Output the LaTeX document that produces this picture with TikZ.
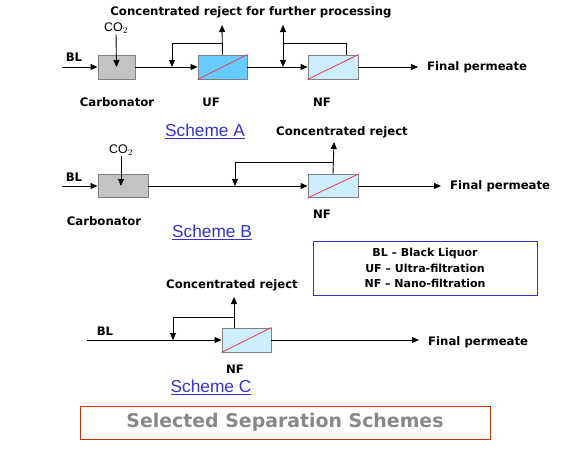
\documentclass[tikz,border=0pt]{standalone}
\usepackage{fontspec}
\setmainfont{DejaVu Sans}
\newfontfamily\arialfont{Liberation Sans}
\usepackage{tikz}
\usetikzlibrary{arrows.meta, calc}

\definecolor{carbgray}{HTML}{C4C2C4}
\definecolor{ufblue}{HTML}{66CCFF}
\definecolor{nfblue}{HTML}{CCEEFF}
\definecolor{boxedge}{HTML}{808080}
\definecolor{membred}{HTML}{FF3344}
\definecolor{linkblue}{HTML}{3333CC}
\definecolor{titlered}{HTML}{CC3300}
\definecolor{titlegray}{HTML}{888888}

\begin{document}
\begin{tikzpicture}[x=1pt, y=-1pt,
        flow/.style={line width=0.9pt, -{Triangle[length=7pt,width=6pt]}},
        pipe/.style={line width=0.9pt},
        unit/.style={draw=boxedge, line width=0.9pt, minimum height=24pt, inner sep=0pt},
        carb/.style={unit, fill=carbgray},
        uf/.style={unit, fill=ufblue, minimum width=49pt},
        nf/.style={unit, fill=nfblue, minimum width=50pt},
        lbl/.style={font=\bfseries\fontsize{11.7}{13}\selectfont, inner sep=1pt},
        gas/.style={font=\arialfont\fontsize{12.5}{13}\selectfont, inner sep=1pt},
        scheme/.style={font=\arialfont\fontsize{17.3}{19}\selectfont, text=linkblue, inner sep=1pt},
        perm/.style={lbl, inner xsep=9pt}]
    \useasboundingbox (0,0) rectangle (572,448);

    % Scheme A
    \begin{scope}
        \node[lbl] (headA) at (251,12) {Concentrated reject for further processing};
        \node[gas] (co2A) at (116,28) {CO$_2$};
        \node[lbl] (blA) at (74,57) {BL};
        \coordinate (inA) at (62,67);
        \node[carb, minimum width=37pt] (carbA) at (116.5,67) {};
        \node[uf] (ufA) at (222.5,67) {};
        \node[nf] (nfA) at (333,67) {};
        \draw[membred, line width=0.8pt] (ufA.south west) -- (ufA.north east);
        \draw[membred, line width=0.8pt] (nfA.south west) -- (nfA.north east);
        \node[perm, anchor=west] (fpA) at (418,67) {Final permeate};
        \node[lbl] (carbLblA) at (117,102) {Carbonator};
        \node[lbl] (ufLblA) at (211,102) {UF};
        \node[lbl] (nfLblA) at (322,102) {NF};
        \node[scheme] (schA) at (205,131) {\underline{Scheme A}};

        \draw[flow] (inA) -- (carbA.west);
        \draw[flow] (co2A.south) -- (carbA.center);
        \draw[flow] (carbA.east) -- (ufA.west);
        \draw[flow] (ufA.east) -- (nfA.west);
        \draw[flow] (nfA) -- (fpA);
        % UF reject and recycle
        \coordinate (outUF) at (222,25);
        \coordinate (loopUF) at (222,43);
        \coordinate (jUF) at (172,67);
        \draw[flow] (ufA.north) -- (outUF);
        \draw[flow] (loopUF) -| (jUF);
        % NF reject and recycle
        \coordinate (tapNFA) at ($(nfA.north east)+(-12,0)$);
        \coordinate (loopNFA) at (283,43);
        \coordinate (outNFA) at (283,25);
        \coordinate (jNFA) at (283,67);
        \draw[pipe] (tapNFA) |- (loopNFA);
        \draw[flow] (loopNFA) -- (outNFA);
        \draw[flow] (loopNFA) -- (jNFA);
    \end{scope}

    % Scheme B
    \begin{scope}
        \node[lbl] (rejB) at (342,132) {Concentrated reject};
        \node[gas] (co2B) at (121,150) {CO$_2$};
        \node[lbl] (blB) at (74,177) {BL};
        \coordinate (inB) at (62,186);
        \node[carb, minimum width=50pt, minimum height=23pt] (carbB) at (123,186) {};
        \node[nf, minimum height=23pt] (nfB) at (333,186) {};
        \draw[membred, line width=0.8pt] (nfB.south west) -- (nfB.north east);
        \node[perm, anchor=west] (fpB) at (441,186) {Final permeate};
        \node[lbl] (carbLblB) at (104,221) {Carbonator};
        \node[lbl] (nfLblB) at (322,214) {NF};
        \node[scheme] (schB) at (212,232) {\underline{Scheme B}};

        \draw[flow] (inB) -- (carbB.west);
        \draw[flow] (co2B.south) -- (co2B.south |- carbB.center);
        \draw[flow] (carbB.east) -- (nfB.west);
        \draw[flow] (nfB) -- (fpB);
        \coordinate (outNFB) at (334,142);
        \coordinate (loopNFB) at (334,162);
        \coordinate (jNFB) at (235,186);
        \draw[flow] (nfB.north) -- (outNFB);
        \draw[flow] (loopNFB) -| (jNFB);
    \end{scope}

    % legend
    \node[draw=linkblue, line width=0.9pt, minimum width=224pt, minimum height=54pt,
          font=\bfseries\fontsize{11}{15.5}\selectfont, align=center] (legend) at (425,268)
        {BL -- Black Liquor\\UF -- Ultra-filtration\\NF -- Nano-filtration};

    % Scheme C
    \begin{scope}
        \node[lbl] (rejC) at (232,285) {Concentrated reject};
        \node[lbl] (blC) at (105,331) {BL};
        \coordinate (inC) at (87,340);
        \node[nf, minimum width=49pt] (nfC) at (246.5,340) {};
        \draw[membred, line width=0.8pt] (nfC.south west) -- (nfC.north east);
        \node[perm, anchor=west] (fpC) at (419,342) {Final permeate};
        \node[lbl] (nfLblC) at (235,369) {NF};
        \node[scheme] (schC) at (211,387) {\underline{Scheme C}};

        \draw[flow] (inC) -- (nfC.west);
        \draw[flow] (nfC.east) -- (fpC.west |- nfC.east);
        \coordinate (tapNFC) at ($(nfC.north)+(-12.5,0)$);
        \coordinate (outNFC) at (234,297);
        \coordinate (loopNFC) at (234,317);
        \coordinate (jNFC) at (173,340);
        \draw[flow] (tapNFC) -- (outNFC);
        \draw[flow] (loopNFC) -| (jNFC);
    \end{scope}

    % title
    \node[draw=titlered, line width=0.9pt, minimum width=410pt, minimum height=33pt,
          text=titlegray, font=\bfseries\fontsize{18.9}{22}\selectfont] (title) at (285,422.5)
        {Selected Separation Schemes};
\end{tikzpicture}
\end{document}
